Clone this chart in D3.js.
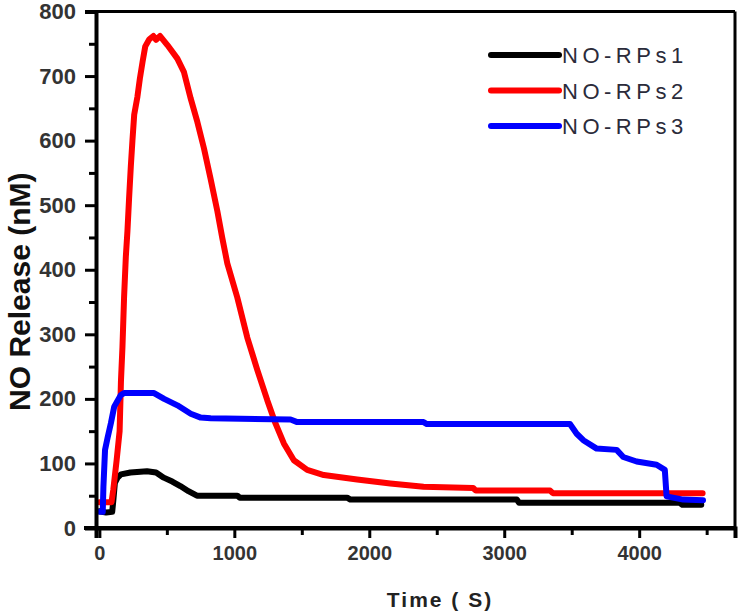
<!DOCTYPE html>
<html>
<head>
<meta charset="utf-8">
<script src="https://cdn.jsdelivr.net/npm/d3@7"></script>
<style>
  html, body { margin: 0; padding: 0; background: #fff; }
  svg { display: block; }
</style>
</head>
<body>
<svg id="chart" width="742" height="615"></svg>
<script>
// ---- data ----
const seriesNames = ["NO-RPs1", "NO-RPs2", "NO-RPs3"];
const seriesColors = ["#000000", "#ff0000", "#0000ff"];

const s1Time = [0, 50, 95, 105, 115, 135, 160, 230, 353, 420, 477, 540, 600, 660, 723, 1022, 1040, 1836, 1860, 3093, 3110, 4300, 4320, 4460];
const s1Value = [26, 24, 25, 46, 70, 78, 83, 86, 88, 86, 78, 72, 65, 57, 50, 50, 47, 47, 44, 44, 39, 39, 36, 36];

const s2Time = [0, 90, 103, 128, 150, 160, 171, 183, 196, 208, 220, 233, 245, 258, 282, 300, 320, 340, 370, 400, 420, 450, 504, 578, 627, 677, 726, 775, 825, 874, 911, 948, 1022, 1096, 1170, 1244, 1305, 1367, 1441, 1540, 1663, 1910, 2156, 2402, 2770, 2790, 3340, 3360, 4470];
const s2Value = [40, 40, 59, 105, 150, 228, 280, 357, 420, 460, 510, 560, 600, 640, 668, 696, 722, 746, 757, 762, 756, 762, 748, 727, 706, 665, 629, 588, 540, 491, 449, 410, 357, 295, 245, 198, 162, 131, 105, 90, 82, 75, 69, 64, 62, 58, 58, 54, 54];

const s3Time = [0, 25, 30, 42, 61, 85, 110, 159, 183, 405, 480, 578, 677, 751, 825, 1417, 1466, 2402, 2427, 3487, 3537, 3586, 3685, 3833, 3882, 3981, 4129, 4190, 4203, 4326, 4473];
const s3Value = [25, 25, 64, 121, 140, 162, 188, 206, 209, 209, 200, 190, 177, 171, 170, 168, 164, 164, 161, 161, 146, 136, 123, 121, 110, 103, 98, 90, 49, 44, 43];

const xMajorTicks = [0, 1000, 2000, 3000, 4000];
const xMinorTicks = [500, 1500, 2500, 3500, 4500];
const yMajorTicks = [0, 100, 200, 300, 400, 500, 600, 700, 800];
const yMinorTicks = [50, 150, 250, 350, 450, 550, 650, 750];
const xTitle = "Time ( S)";
const yTitle = "NO Release (nM)";

// ---- drawing ----
const svg = d3.select("#chart");
const pLeft = 96, pRight = 735, pTop = 11.5, pBottom = 528;

const x = d3.scaleLinear().domain([-25, 4710]).range([pLeft, pRight]);
const y = d3.scaleLinear().domain([0, 800]).range([pBottom, pTop]);

const series = [
  { name: seriesNames[0], color: seriesColors[0], t: s1Time, v: s1Value },
  { name: seriesNames[1], color: seriesColors[1], t: s2Time, v: s2Value },
  { name: seriesNames[2], color: seriesColors[2], t: s3Time, v: s3Value }
];

const line = d3.line().x(d => x(d[0])).y(d => y(d[1]));

series.forEach(s => {
  const pts = s.t.map((t, i) => [t, s.v[i]]);
  svg.append("path")
    .attr("d", line(pts))
    .attr("fill", "none")
    .attr("stroke", s.color)
    .attr("stroke-width", 6)
    .attr("stroke-linejoin", "round")
    .attr("stroke-linecap", "round");
});

svg.append("line").attr("x1", pLeft).attr("x2", pRight).attr("y1", pTop).attr("y2", pTop)
  .attr("stroke", "#000").attr("stroke-width", 3);
svg.append("line").attr("x1", pRight).attr("x2", pRight).attr("y1", pTop).attr("y2", pBottom)
  .attr("stroke", "#000").attr("stroke-width", 3);

const FONT = "Arial, 'Liberation Sans', sans-serif";

const yAxis = d3.axisLeft(y).tickValues(yMajorTicks).tickSize(11).tickPadding(9).tickFormat(d3.format("d"));
const gy = svg.append("g").attr("transform", `translate(${pLeft},0)`).call(yAxis);
gy.select(".domain").attr("stroke", "#000").attr("stroke-width", 4);
gy.selectAll(".tick line").attr("stroke", "#000").attr("stroke-width", 3);
gy.selectAll(".tick text").attr("font-family", FONT)
  .attr("font-size", 22).attr("font-weight", "bold").attr("fill", "#333");
const gyMinor = svg.append("g").attr("transform", `translate(${pLeft},0)`)
  .call(d3.axisLeft(y).tickValues(yMinorTicks).tickSize(7).tickFormat(""));
gyMinor.select(".domain").remove();
gyMinor.selectAll(".tick line").attr("stroke", "#000").attr("stroke-width", 3);

const xAxis = d3.axisBottom(x).tickValues(xMajorTicks).tickSize(10).tickPadding(8).tickFormat(d3.format("d"));
const gx = svg.append("g").attr("transform", `translate(0,${pBottom})`).call(xAxis);
gx.select(".domain").attr("stroke", "#000").attr("stroke-width", 4);
gx.selectAll(".tick line").attr("stroke", "#000").attr("stroke-width", 3);
gx.selectAll(".tick text").attr("font-family", FONT)
  .attr("font-size", 20).attr("font-weight", "bold").attr("fill", "#333");
const gxMinor = svg.append("g").attr("transform", `translate(0,${pBottom})`)
  .call(d3.axisBottom(x).tickValues(xMinorTicks).tickSize(7).tickFormat(""));
gxMinor.select(".domain").remove();
gxMinor.selectAll(".tick line").attr("stroke", "#000").attr("stroke-width", 3);
svg.append("line").attr("x1", pLeft - 12).attr("x2", pRight).attr("y1", pBottom).attr("y2", pBottom)
  .attr("stroke", "#000").attr("stroke-width", 4);

svg.append("text").attr("x", 440).attr("y", 607).attr("text-anchor", "middle")
  .attr("font-family", FONT).attr("font-size", 21)
  .attr("font-weight", "bold").attr("letter-spacing", 2).attr("fill", "#222").text(xTitle);
svg.append("text").attr("transform", `translate(30,${(pTop + pBottom) / 2 + 22}) rotate(-90)`)
  .attr("text-anchor", "middle")
  .attr("font-family", FONT).attr("font-size", 30)
  .attr("font-weight", "bold").attr("fill", "#111").text(yTitle);

const lg = svg.append("g");
series.forEach((s, i) => {
  const ly = 55 + i * 35.5;
  lg.append("line").attr("x1", 491).attr("x2", 559).attr("y1", ly).attr("y2", ly)
    .attr("stroke", s.color).attr("stroke-width", 6).attr("stroke-linecap", "round");
  lg.append("text").attr("x", 562).attr("y", ly + 8)
    .attr("font-family", FONT).attr("font-size", 22)
    .attr("letter-spacing", 4.5).attr("fill", "#2b2b3a").text(s.name);
});
</script>
</body>
</html>
